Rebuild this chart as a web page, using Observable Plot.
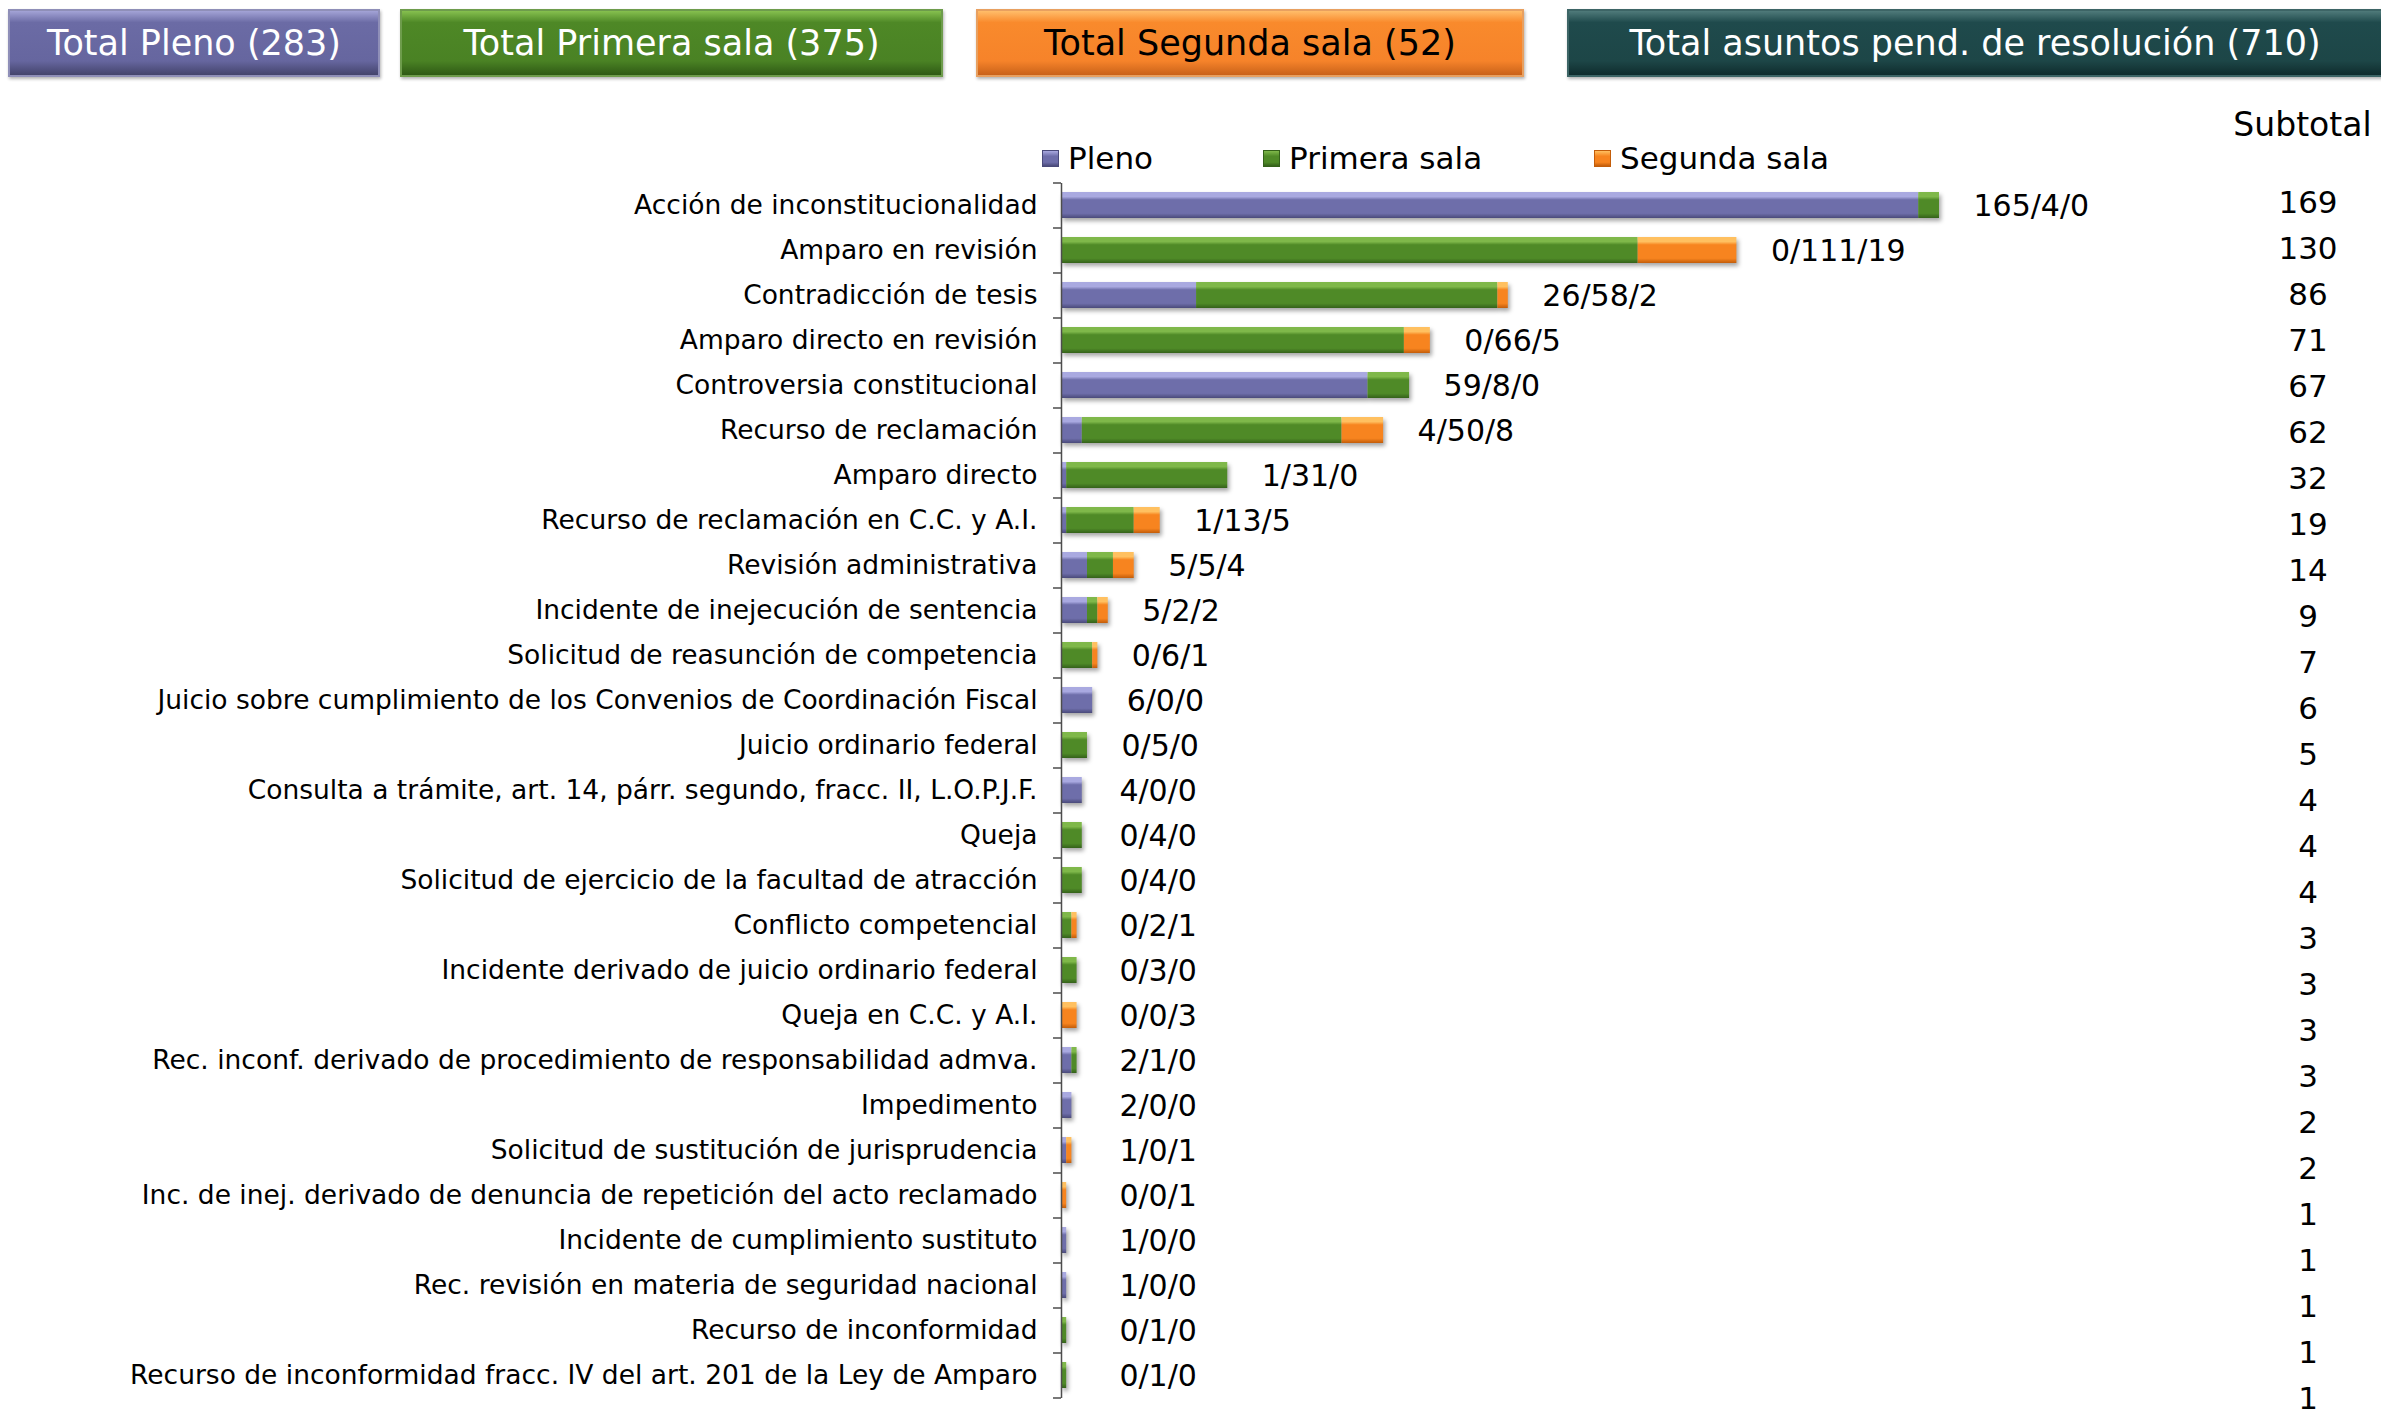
<!DOCTYPE html>
<html>
<head>
<meta charset="utf-8">
<script src="https://cdn.jsdelivr.net/npm/d3@7"></script>
<script src="https://cdn.jsdelivr.net/npm/@observablehq/plot@0.6"></script>
<style>
  html, body { margin: 0; padding: 0; background: #fff; }
  #page { position: relative; width: 2381px; height: 1415px; overflow: hidden; font-family: "DejaVu Sans", Verdana, sans-serif; }
  .box { position: absolute; top: 9px; height: 68px; display: flex; align-items: center; justify-content: center;
         font-size: 35px; box-sizing: border-box; white-space: nowrap; }
  .legend-item { position: absolute; top: 140px; font-size: 31px; display: flex; align-items: center; white-space: nowrap; }
  .legend-item .sw { width: 15px; height: 15px; margin-right: 9px; }
  #subtitle { position: absolute; left: 2200px; width: 205px; top: 105px; text-align: center; font-size: 33px; }
  svg g[aria-label="bar"] { filter: drop-shadow(2px 3px 2px rgba(0,0,0,0.35)); }
  #main, #sub { position: absolute; left: 0; top: 0; }
</style>
</head>
<body>
<div id="page"></div>
<script>
// ---------- data ----------
const categories = [
  "Acción de inconstitucionalidad",
  "Amparo en revisión",
  "Contradicción de tesis",
  "Amparo directo en revisión",
  "Controversia constitucional",
  "Recurso de reclamación",
  "Amparo directo",
  "Recurso de reclamación en C.C. y A.I.",
  "Revisión administrativa",
  "Incidente de inejecución de sentencia",
  "Solicitud de reasunción de competencia",
  "Juicio sobre cumplimiento de los Convenios de Coordinación Fiscal",
  "Juicio ordinario federal",
  "Consulta a trámite, art. 14, párr. segundo, fracc. II, L.O.P.J.F.",
  "Queja",
  "Solicitud de ejercicio de la facultad de atracción",
  "Conflicto competencial",
  "Incidente derivado de juicio ordinario federal",
  "Queja en C.C. y A.I.",
  "Rec. inconf. derivado de procedimiento de responsabilidad admva.",
  "Impedimento",
  "Solicitud de sustitución de jurisprudencia",
  "Inc. de inej. derivado de denuncia de repetición del acto reclamado",
  "Incidente de cumplimiento sustituto",
  "Rec. revisión en materia de seguridad nacional",
  "Recurso de inconformidad",
  "Recurso de inconformidad fracc. IV del art. 201 de la Ley de Amparo"
];
const pleno   = [165, 0, 26, 0, 59, 4, 1, 1, 5, 5, 0, 6, 0, 4, 0, 0, 0, 0, 0, 2, 2, 1, 0, 1, 1, 0, 0];
const primera = [4, 111, 58, 66, 8, 50, 31, 13, 5, 2, 6, 0, 5, 0, 4, 4, 2, 3, 0, 1, 0, 0, 0, 0, 0, 1, 1];
const segunda = [0, 19, 2, 5, 0, 8, 0, 5, 4, 2, 1, 0, 0, 0, 0, 0, 1, 0, 3, 0, 0, 1, 1, 0, 0, 0, 0];
const subtotals = [169, 130, 86, 71, 67, 62, 32, 19, 14, 9, 7, 6, 5, 4, 4, 4, 3, 3, 3, 3, 2, 2, 1, 1, 1, 1, 1];
const seriesNames = ["Pleno", "Primera sala", "Segunda sala"];
const headerNames = ["Total Pleno", "Total Primera sala", "Total Segunda sala", "Total asuntos pend. de resolución"];
const headerTotals = [283, 375, 52, 710];
const subtotalTitle = "Subtotal";

// ---------- styles ----------
const seriesColors = {
  "Pleno":        {light: "#a9a9e0", base: "#6e6eaa", dark: "#4a4a7a"},
  "Primera sala": {light: "#7fb84a", base: "#4f8a27", dark: "#34611a"},
  "Segunda sala": {light: "#ffc060", base: "#f7841f", dark: "#c35d0a"}
};
const gradId = s => "g" + seriesNames.indexOf(s);

const page = document.getElementById("page");

// header boxes
const boxStyles = [
  {left: 8,    width: 372, bg: ["#a3a3d6", "#6b6ba5", "#66669f", "#44446c"], color: "#fff", border: "#8f8fb8"},
  {left: 400,  width: 543, bg: ["#86c04f", "#4e8826", "#4a8224", "#2f5a15"], color: "#fff", border: "#6e9c4c"},
  {left: 976,  width: 548, bg: ["#ffbd6a", "#f98a2c", "#f6832a", "#c9621a"], color: "#000", border: "#e8a060"},
  {left: 1567, width: 816, bg: ["#4f7a7a", "#1f4a4c", "#1d4647", "#0f2c2d"], color: "#fff", border: "#3d6566"}
];
headerNames.forEach((n, i) => {
  const s = boxStyles[i];
  const d = document.createElement("div");
  d.className = "box";
  d.style.left = s.left + "px";
  d.style.width = s.width + "px";
  d.style.color = s.color;
  d.style.border = "2px solid " + s.border;
  d.style.background = `linear-gradient(to bottom, ${s.bg[0]} 0%, ${s.bg[1]} 18%, ${s.bg[2]} 78%, ${s.bg[3]} 100%)`;
  d.style.boxShadow = "1px 2px 3px rgba(0,0,0,0.3)";
  d.textContent = `${n} (${headerTotals[i]})`;
  page.appendChild(d);
});

// legend
const legendLefts = [1042, 1263, 1594];
seriesNames.forEach((s, i) => {
  const c = seriesColors[s];
  const d = document.createElement("div");
  d.className = "legend-item";
  d.style.left = legendLefts[i] + "px";
  const sw = document.createElement("span");
  sw.className = "sw";
  sw.style.background = `linear-gradient(to bottom, ${c.light} 0%, ${c.base} 35%, ${c.base} 75%, ${c.dark} 100%)`;
  sw.style.border = "1px solid " + c.dark;
  d.appendChild(sw);
  const t = document.createElement("span");
  t.textContent = s;
  d.appendChild(t);
  page.appendChild(d);
});

// subtotal title
const st = document.createElement("div");
st.id = "subtitle";
st.textContent = subtotalTitle;
page.appendChild(st);

// ---------- main chart ----------
const W = 2381, H = 1415;
const mTop = 183, mBottom = 17, mLeft = 1061, mRight = 442;
const step = (H - mTop - mBottom) / categories.length;
const xMax = 169;
const pxPerUnit = (W - mLeft - mRight) / xMax;

const rows = categories.flatMap((c, i) => [
  {cat: c, serie: seriesNames[0], v: pleno[i]},
  {cat: c, serie: seriesNames[1], v: primera[i]},
  {cat: c, serie: seriesNames[2], v: segunda[i]}
]);
const labels = categories.map((c, i) => ({
  cat: c,
  total: pleno[i] + primera[i] + segunda[i],
  text: `${pleno[i]}/${primera[i]}/${segunda[i]}`
}));

const main = Plot.plot({
  width: W, height: H,
  marginTop: mTop, marginBottom: mBottom, marginLeft: mLeft, marginRight: mRight,
  style: {fontFamily: "'DejaVu Sans', Verdana, sans-serif", background: "transparent", overflow: "visible"},
  x: {domain: [0, xMax], axis: null},
  y: {domain: categories, paddingInner: 0.42, paddingOuter: 0.21, axis: null},
  color: {domain: seriesNames, range: seriesNames.map(s => `url(#${gradId(s)})`)},
  marks: [
    Plot.barX(rows, {y: "cat", x: "v", fill: "serie"}),
    Plot.ruleX([0], {stroke: "#4d4d4d", strokeWidth: 1.5}),
    Plot.ruleY(categories, {y: d => d, x1: -8 / pxPerUnit, x2: 0, dy: -step / 2, stroke: "#4d4d4d", strokeWidth: 1.5}),
    Plot.ruleY([categories[categories.length - 1]], {y: d => d, x1: -8 / pxPerUnit, x2: 0, dy: step / 2, stroke: "#4d4d4d", strokeWidth: 1.5}),
    Plot.axisY({tickSize: 0, tickPadding: 24, fontSize: 26.5, fill: "#000", label: null}),
    Plot.text(labels, {y: "cat", x: d => Math.max(d.total, 4.6), dx: 34, dy: 1, text: "text",
      textAnchor: "start", fontSize: 30, fill: "#000"})
  ]
});
main.id = "main";

// gradients
const defs = d3.select(main).insert("defs", ":first-child");
seriesNames.forEach(s => {
  const c = seriesColors[s];
  const g = defs.append("linearGradient").attr("id", gradId(s))
    .attr("x1", 0).attr("y1", 0).attr("x2", 0).attr("y2", 1);
  [[0, c.light], [0.18, c.light], [0.3, c.base], [0.82, c.base], [1, c.dark]].forEach(([o, col]) =>
    g.append("stop").attr("offset", o).attr("stop-color", col));
});
page.appendChild(main);

// ---------- subtotal column ----------
const sub = Plot.plot({
  width: 181, height: H,
  margin: 0,
  style: {fontFamily: "'DejaVu Sans', Verdana, sans-serif", background: "transparent"},
  x: {axis: null},
  y: {type: "point", domain: categories, range: [199, 1403], padding: 0, axis: null},
  marks: [
    Plot.text(categories.map((c, i) => ({cat: c, s: subtotals[i]})),
      {y: "cat", text: d => String(d.s), fontSize: 31, fill: "#000", frameAnchor: "middle"})
  ]
});
sub.id = "sub";
sub.style.left = "2217px";
page.appendChild(sub);
</script>
</body>
</html>
